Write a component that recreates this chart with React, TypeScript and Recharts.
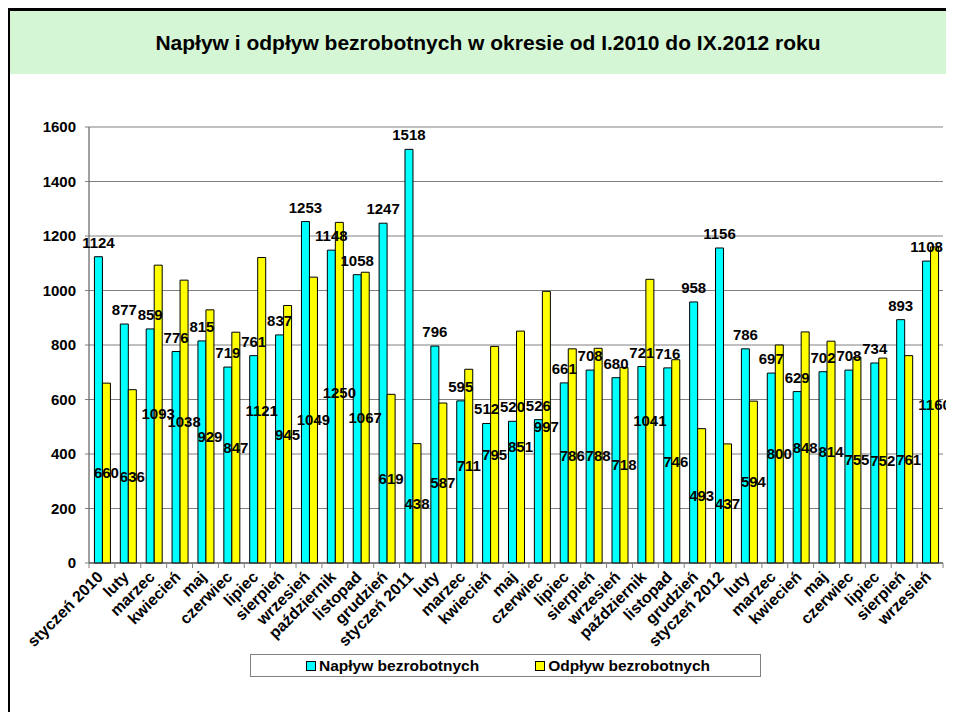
import { BarChart, Bar, XAxis, YAxis, CartesianGrid, LabelList, Legend } from 'recharts';

// miesiące od I.2010 do IX.2012
const months = [
    'styczeń 2010', 'luty', 'marzec', 'kwiecień', 'maj', 'czerwiec', 'lipiec', 'sierpień',
    'wrzesień', 'październik', 'listopad', 'grudzień',
    'styczeń 2011', 'luty', 'marzec', 'kwiecień', 'maj', 'czerwiec', 'lipiec', 'sierpień',
    'wrzesień', 'październik', 'listopad', 'grudzień',
    'styczeń 2012', 'luty', 'marzec', 'kwiecień', 'maj', 'czerwiec', 'lipiec', 'sierpień',
    'wrzesień',
];

const naplyw = [
    1124, 877, 859, 776, 815, 719, 761, 837, 1253, 1148, 1058, 1247,
    1518, 796, 595, 512, 520, 526, 661, 708, 680, 721, 716, 958,
    1156, 786, 697, 629, 702, 708, 734, 893, 1108,
];

const odplyw = [
    660, 636, 1093, 1038, 929, 847, 1121, 945, 1049, 1250, 1067, 619,
    438, 587, 711, 795, 851, 997, 786, 788, 718, 1041, 746, 493,
    437, 594, 800, 848, 814, 755, 752, 761, 1160,
];

const yTicks = [0, 200, 400, 600, 800, 1000, 1200, 1400, 1600];

const data = months.map((m, i) => ({ month: m, naplyw: naplyw[i], odplyw: odplyw[i] }));

const FONT = '"Liberation Sans", Arial, sans-serif';
const PLOT_LEFT = 89;
const PLOT_RIGHT = 943;
const PLOT_BOTTOM = 563;
const HALF_STEP = (PLOT_RIGHT - PLOT_LEFT) / months.length / 2;

const MonthTick = (props: any) => {
    const { x, payload, index } = props;
    const tx = x + 2;
    const ty = PLOT_BOTTOM + 15;
    return (
        <g>
            <line x1={x - HALF_STEP} x2={x - HALF_STEP} y1={PLOT_BOTTOM} y2={PLOT_BOTTOM + 5} stroke="#808080" />
            {index === months.length - 1 && (
                <line x1={x + HALF_STEP} x2={x + HALF_STEP} y1={PLOT_BOTTOM} y2={PLOT_BOTTOM + 5} stroke="#808080" />
            )}
            <text
                x={tx}
                y={ty}
                textAnchor="end"
                transform={`rotate(-45 ${tx} ${ty})`}
                fontFamily={FONT}
                fontWeight="bold"
                fontSize={16}
                fill="#000"
            >
                {payload.value}
            </text>
        </g>
    );
};

const renderLegend = () => (
    <div
        style={{
            width: 509,
            height: 21,
            border: '1px solid #808080',
            background: '#fff',
            display: 'flex',
            alignItems: 'center',
            fontFamily: FONT,
            fontWeight: 'bold',
            fontSize: 15.5,
            color: '#000',
        }}
    >
        <span style={{ display: 'inline-block', width: 8, height: 8, border: '1px solid #000', background: '#00ffff', marginLeft: 55, marginRight: 3 }} />
        <span>Napływ bezrobotnych</span>
        <span style={{ display: 'inline-block', width: 8, height: 8, border: '1px solid #000', background: '#ffff00', marginLeft: 56, marginRight: 3 }} />
        <span>Odpływ bezrobotnych</span>
    </div>
);

export default function App() {
    return (
        <div style={{ position: 'relative', width: 954, height: 720, margin: -8, background: '#fff', overflow: 'hidden', fontFamily: FONT }}>
            {/* ramka */}
            <div style={{ position: 'absolute', left: 7, top: 8, right: 0, height: 3, background: '#000' }} />
            <div style={{ position: 'absolute', left: 7, top: 8, width: 3, bottom: 0, background: '#000' }} />
            {/* nagłówek */}
            <div
                style={{
                    position: 'absolute', left: 10, top: 11, right: 0, height: 63,
                    background: '#d4f6d4', display: 'flex', alignItems: 'center', justifyContent: 'center',
                    fontWeight: 'bold', fontSize: 21, color: '#000', paddingLeft: 12, boxSizing: 'border-box',
                }}
            >
                Napływ i odpływ bezrobotnych w okresie od I.2010 do IX.2012 roku
            </div>
            <div style={{ position: 'absolute', left: 0, top: 0 }}>
                <BarChart
                    width={954}
                    height={720}
                    data={data}
                    margin={{ top: 127, right: 11, bottom: 57, left: 0 }}
                    barCategoryGap="21%"
                    barGap={0}
                >
                    <CartesianGrid vertical={false} stroke="#808080" />
                    <XAxis
                        dataKey="month"
                        interval={0}
                        height={100}
                        tick={<MonthTick />}
                        tickLine={false}
                        axisLine={{ stroke: '#404040' }}
                    />
                    <YAxis
                        domain={[0, 1600]}
                        ticks={yTicks}
                        width={89}
                        tickSize={4}
                        tickMargin={9}
                        tickLine={{ stroke: '#808080' }}
                        axisLine={{ stroke: '#404040' }}
                        tick={{ fontFamily: FONT, fontWeight: 'bold', fontSize: 15, fill: '#000' }}
                    />
                    <YAxis
                        yAxisId="r"
                        orientation="right"
                        width={0}
                        tick={false}
                        tickLine={false}
                        axisLine={{ stroke: '#808080' }}
                    />
                    <Legend
                        layout="horizontal"
                        verticalAlign="middle"
                        align="center"
                        wrapperStyle={{ position: 'absolute', left: 250, top: 654, width: 511, height: 23 }}
                        content={renderLegend}
                    />
                    <Bar dataKey="naplyw" name="Napływ bezrobotnych" fill="#00ffff" stroke="#000" strokeWidth={1} isAnimationActive={false}>
                        <LabelList dataKey="naplyw" position="top" offset={9} fill="#000" fontFamily={FONT} fontWeight="bold" fontSize={15} />
                    </Bar>
                    <Bar dataKey="odplyw" name="Odpływ bezrobotnych" fill="#ffff00" stroke="#000" strokeWidth={1} isAnimationActive={false}>
                        <LabelList dataKey="odplyw" position="center" fill="#000" fontFamily={FONT} fontWeight="bold" fontSize={15} />
                    </Bar>
                </BarChart>
            </div>
        </div>
    );
}
